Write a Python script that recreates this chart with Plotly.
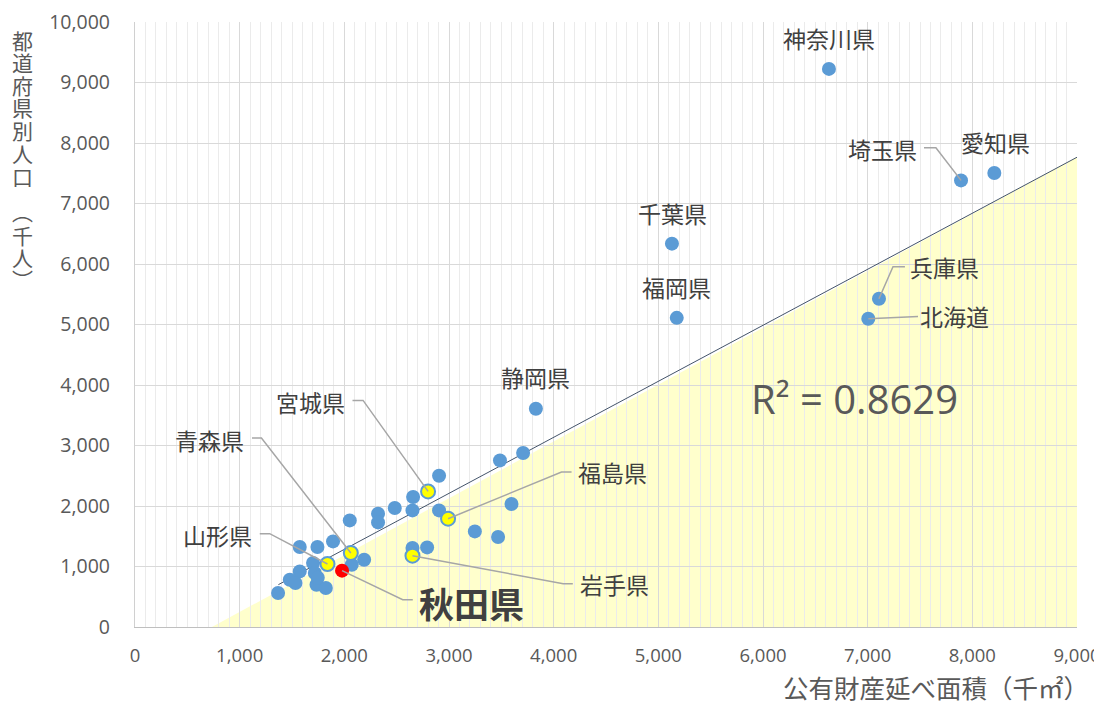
import plotly.graph_objects as go

# ---------------- data ----------------
# labelled prefectures: name, floor area (千㎡), population (千人)
labeled_names = ["神奈川県", "愛知県", "埼玉県", "千葉県", "兵庫県", "北海道", "福岡県", "静岡県"]
labeled_area = [6630, 8210, 7892, 5130, 7108, 7006, 5176, 3830]
labeled_pop = [9225, 7504, 7382, 6336, 5426, 5096, 5110, 3608]

# other (unlabelled) prefectures
other_area = [3708, 3487, 2905, 2657, 2482, 2322, 2322, 2052, 2651, 2905, 3597, 3247, 3469,
              2651, 2791, 1892, 1743, 1574, 2189, 1701, 1574, 1479, 1533, 1718, 1734, 1823,
              1367, 2071, 1746]
other_pop = [2876, 2754, 2501, 2149, 1967, 1873, 1729, 1762, 1927, 1927, 2033, 1580, 1488,
             1306, 1316, 1415, 1322, 1322, 1112, 1058, 919, 782, 727, 893, 699, 645,
             562, 1030, 815]

# Tohoku prefectures (highlighted yellow)
tohoku_names = ["宮城県", "福島県", "岩手県", "青森県", "山形県"]
tohoku_area = [2800, 2991, 2651, 2062, 1839]
tohoku_pop = [2241, 1790, 1179, 1223, 1041]

# Akita (highlighted red)
akita_name = "秋田県"
akita_area = [1978]
akita_pop = [931]

# linear trend line and shaded region beneath it
trend_x = [1370, 9000]
trend_y = [700, 7765]
fill_x = [735, 9000]
fill_y = [0, 7765]
r2_text = "R² = 0.8629"

x_title = "公有財産延べ面積（千㎡）"
y_title_chars = ["都", "道", "府", "県", "別", "人", "口", "︵", "千", "人", "︶"]

# ---------------- styling / positions ----------------
BLUE = "#5b9bd5"
TXT = "#404040"
AX = "#595959"
LEAD = "#a6a6a6"
FONT = "Noto Sans CJK JP"

# the page body has an 8px margin; compensate so the plot lands where the reference has it
OFF = 8
W, H = 1102 - OFF, 704 - OFF
ML, MR, MT, MB = 135 - OFF, 25, 22 - OFF, 77
PW, PH = W - ML - MR, H - MT - MB   # plot area size in px


def paper_x(px):
    return (px - 135) / PW


def paper_y(py):
    return (627 - py) / PH


# label centres (data coords) and leader-line paths (data coords)
label_pos = {
    "神奈川県": (6630, 9740), "愛知県": (8217, 8022), "埼玉県": (7146, 7906),
    "千葉県": (5139, 6848), "兵庫県": (7738, 5956), "北海道": (7834, 5146),
    "福岡県": (5176, 5625), "静岡県": (3830, 4137),
    "宮城県": (1681, 3724), "青森県": (715, 3096), "山形県": (790, 1526),
    "福島県": (4566, 2567), "岩手県": (4585, 716),
}
leader_pts = {
    "埼玉県": [(7538, 7922), (7652, 7922)],
    "兵庫県": [(7356, 5954), (7242, 5954)],
    "北海道": [(7481, 5134)],
    "宮城県": [(2078, 3745), (2179, 3745)],
    "青森県": [(1118, 3124), (1208, 3124)],
    "山形県": [(1192, 1542), (1287, 1542)],
    "福島県": [(4171, 2562), (4075, 2562)],
    "岩手県": [(4183, 716), (4091, 716)],
    "秋田県": [(2654, 451), (2558, 451)],
}

fig = go.Figure()

point_lookup = {}
for n, a, p in zip(labeled_names, labeled_area, labeled_pop):
    point_lookup[n] = (a, p)
for n, a, p in zip(tohoku_names, tohoku_area, tohoku_pop):
    point_lookup[n] = (a, p)
point_lookup[akita_name] = (akita_area[0], akita_pop[0])

shapes = []
# shaded region under the trend (below gridlines)
path = "M {},{} L {},{} L {},{} Z".format(fill_x[0], fill_y[0], fill_x[1], fill_y[1], fill_x[1], 0)
shapes.append(dict(type="path", path=path, xref="x", yref="y", layer="below",
                   fillcolor="#ffffcc", line=dict(width=0)))

# leader lines
for n, pts in leader_pts.items():
    px, py = point_lookup[n]
    seq = pts + [(px, py)]
    d = "M " + " L ".join("{},{}".format(a, b) for a, b in seq)
    shapes.append(dict(type="path", path=d, xref="x", yref="y", layer="above",
                       line=dict(color=LEAD, width=1.5)))

# trend line
fig.add_trace(go.Scatter(x=trend_x, y=trend_y, mode="lines",
                         line=dict(color="#44546a", width=1), hoverinfo="skip"))

fig.add_trace(go.Scatter(x=other_area + labeled_area, y=other_pop + labeled_pop, mode="markers",
                         marker=dict(color=BLUE, size=14, line=dict(width=0))))
fig.add_trace(go.Scatter(x=tohoku_area, y=tohoku_pop, mode="markers",
                         marker=dict(color="#ffff00", size=14, line=dict(color=BLUE, width=2))))
fig.add_trace(go.Scatter(x=akita_area, y=akita_pop, mode="markers",
                         marker=dict(color="#ff0000", size=14, line=dict(width=0))))

ann = []
for n, (lx, ly) in label_pos.items():
    ann.append(dict(x=lx, y=ly, xref="x", yref="y", text=n, showarrow=False,
                    xanchor="center", yanchor="middle", font=dict(family=FONT, size=23, color=TXT)))
ann.append(dict(x=3218, y=402, xref="x", yref="y", text="<b>" + akita_name + "</b>", showarrow=False,
                xanchor="center", yanchor="middle", font=dict(family=FONT, size=35, color=TXT)))
ann.append(dict(x=6878, y=3778, xref="x", yref="y", text=r2_text, showarrow=False,
                xanchor="center", yanchor="middle", font=dict(family="Open Sans", size=40, color=AX)))

# x axis title
ann.append(dict(x=paper_x(936), y=paper_y(686), xref="paper", yref="paper", text=x_title,
                showarrow=False, xanchor="center", yanchor="middle",
                font=dict(family=FONT, size=25.5, color=AX)))
# vertical y axis title (stacked characters)
y_centres = [40, 62.5, 85, 107.5, 130, 152.5, 176, 211, 235, 257, 279]
for ch, cy in zip(y_title_chars, y_centres):
    ann.append(dict(x=paper_x(22), y=paper_y(cy), xref="paper", yref="paper", text=ch,
                    showarrow=False, xanchor="center", yanchor="middle",
                    font=dict(family=FONT, size=21, color=AX)))

fig.update_layout(
    width=W, height=H,
    margin=dict(l=ML, r=MR, t=MT, b=MB, autoexpand=False),
    paper_bgcolor="white", plot_bgcolor="white",
    showlegend=False,
    shapes=shapes, annotations=ann,
    font=dict(family="Open Sans", color=AX),
)
fig.update_xaxes(range=[0, 9000], dtick=1000, tick0=0, tickformat=",", showgrid=True,
                 gridcolor="#d9d9d9", gridwidth=1.3, zeroline=False,
                 showline=True, linecolor="#bfbfbf", linewidth=1.3,
                 ticks="outside", ticklen=12, tickcolor="rgba(0,0,0,0)",
                 ticklabeloverflow="allow",
                 tickfont=dict(family="Open Sans", size=18.5, color=AX), automargin=False,
                 minor=dict(dtick=100, showgrid=True, gridcolor="#ebebeb", gridwidth=1))
fig.update_yaxes(range=[0, 10000], dtick=1000, tick0=0, tickformat=",", showgrid=True,
                 gridcolor="#d9d9d9", gridwidth=1.3, zeroline=False,
                 showline=True, linecolor="#d0d0d0", linewidth=1.3,
                 ticks="outside", ticklen=20, tickcolor="rgba(0,0,0,0)",
                 ticklabeloverflow="allow",
                 tickfont=dict(family="Open Sans", size=19.5, color=AX), automargin=False)

fig.write_html("out.html")
